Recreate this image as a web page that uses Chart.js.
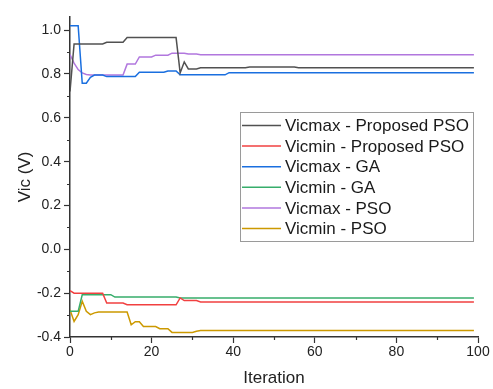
<!DOCTYPE html>
<html>
<head>
<meta charset="utf-8">
<script src="https://cdn.jsdelivr.net/npm/chart.js@4.4.0/dist/chart.umd.min.js"></script>
<style>
  html, body { margin: 0; padding: 0; background: #fff; }
  #wrap { width: 493px; height: 389px; }
</style>
</head>
<body>
<div id="wrap"><canvas id="chart" width="493" height="389"></canvas></div>
<script>
// iterations 0..99
const iterations = Array.from({ length: 100 }, (_, i) => i);

const seriesNames = [
    'Vicmax - Proposed PSO',
    'Vicmin - Proposed PSO',
    'Vicmax - GA',
    'Vicmin - GA',
    'Vicmax - PSO',
    'Vicmin - PSO'
];
const seriesColors = ['#515151', '#F14040', '#1A6FDF', '#37AD6B', '#B177DE', '#CC9900'];

const vicmaxProposed = [
    0.72, 0.937, 0.937, 0.937, 0.937, 0.937, 0.937, 0.937, 0.937, 0.945,
    0.945, 0.945, 0.945, 0.945, 0.966, 0.966, 0.966, 0.966, 0.966, 0.966,
    0.966, 0.966, 0.966, 0.966, 0.966, 0.966, 0.966, 0.805, 0.855, 0.823,
    0.823, 0.823, 0.828, 0.828, 0.828, 0.828, 0.828, 0.828, 0.828, 0.828,
    0.828, 0.828, 0.828, 0.828, 0.832, 0.832, 0.832, 0.832, 0.832, 0.832,
    0.832, 0.832, 0.832, 0.832, 0.832, 0.832, 0.828, 0.828, 0.828, 0.828,
    0.828, 0.828, 0.828, 0.828, 0.828, 0.828, 0.828, 0.828, 0.828, 0.828,
    0.828, 0.828, 0.828, 0.828, 0.828, 0.828, 0.828, 0.828, 0.828, 0.828,
    0.828, 0.828, 0.828, 0.828, 0.828, 0.828, 0.828, 0.828, 0.828, 0.828,
    0.828, 0.828, 0.828, 0.828, 0.828, 0.828, 0.828, 0.828, 0.828, 0.828
];
const vicminProposed = [
    -0.189, -0.2, -0.2, -0.2, -0.2, -0.2, -0.2, -0.2, -0.2, -0.245,
    -0.245, -0.245, -0.245, -0.245, -0.253, -0.253, -0.253, -0.253, -0.253, -0.253,
    -0.253, -0.253, -0.253, -0.253, -0.253, -0.253, -0.253, -0.222, -0.234, -0.234,
    -0.234, -0.234, -0.24, -0.24, -0.24, -0.24, -0.24, -0.24, -0.24, -0.24,
    -0.24, -0.24, -0.24, -0.24, -0.24, -0.24, -0.24, -0.24, -0.24, -0.24,
    -0.24, -0.24, -0.24, -0.24, -0.24, -0.24, -0.24, -0.24, -0.24, -0.24,
    -0.24, -0.24, -0.24, -0.24, -0.24, -0.24, -0.24, -0.24, -0.24, -0.24,
    -0.24, -0.24, -0.24, -0.24, -0.24, -0.24, -0.24, -0.24, -0.24, -0.24,
    -0.24, -0.24, -0.24, -0.24, -0.24, -0.24, -0.24, -0.24, -0.24, -0.24,
    -0.24, -0.24, -0.24, -0.24, -0.24, -0.24, -0.24, -0.24, -0.24, -0.24
];
const vicmaxGA = [
    1.02, 1.02, 1.02, 0.758, 0.758, 0.785, 0.795, 0.795, 0.795, 0.788,
    0.788, 0.788, 0.788, 0.788, 0.788, 0.788, 0.788, 0.808, 0.808, 0.808,
    0.808, 0.808, 0.808, 0.808, 0.814, 0.814, 0.814, 0.796, 0.796, 0.796,
    0.796, 0.796, 0.796, 0.796, 0.796, 0.796, 0.796, 0.796, 0.796, 0.806,
    0.806, 0.806, 0.806, 0.806, 0.806, 0.806, 0.806, 0.806, 0.806, 0.806,
    0.806, 0.806, 0.806, 0.806, 0.806, 0.806, 0.806, 0.806, 0.806, 0.806,
    0.806, 0.806, 0.806, 0.806, 0.806, 0.806, 0.806, 0.806, 0.806, 0.806,
    0.806, 0.806, 0.806, 0.806, 0.806, 0.806, 0.806, 0.806, 0.806, 0.806,
    0.806, 0.806, 0.806, 0.806, 0.806, 0.806, 0.806, 0.806, 0.806, 0.806,
    0.806, 0.806, 0.806, 0.806, 0.806, 0.806, 0.806, 0.806, 0.806, 0.806
];
const vicminGA = [
    -0.283, -0.283, -0.283, -0.207, -0.207, -0.207, -0.207, -0.207, -0.207, -0.207,
    -0.207, -0.218, -0.218, -0.218, -0.218, -0.218, -0.218, -0.218, -0.218, -0.218,
    -0.218, -0.218, -0.218, -0.218, -0.218, -0.218, -0.218, -0.222, -0.222, -0.222,
    -0.222, -0.222, -0.222, -0.222, -0.222, -0.222, -0.222, -0.222, -0.222, -0.222,
    -0.222, -0.222, -0.222, -0.222, -0.222, -0.222, -0.222, -0.222, -0.222, -0.222,
    -0.222, -0.222, -0.222, -0.222, -0.222, -0.222, -0.222, -0.222, -0.222, -0.222,
    -0.222, -0.222, -0.222, -0.222, -0.222, -0.222, -0.222, -0.222, -0.222, -0.222,
    -0.222, -0.222, -0.222, -0.222, -0.222, -0.222, -0.222, -0.222, -0.222, -0.222,
    -0.222, -0.222, -0.222, -0.222, -0.222, -0.222, -0.222, -0.222, -0.222, -0.222,
    -0.222, -0.222, -0.222, -0.222, -0.222, -0.222, -0.222, -0.222, -0.222, -0.222
];
const vicmaxPSO = [
    0.889, 0.85, 0.82, 0.805, 0.798, 0.795, 0.795, 0.795, 0.795, 0.795,
    0.795, 0.795, 0.795, 0.795, 0.845, 0.845, 0.845, 0.878, 0.878, 0.878,
    0.878, 0.886, 0.886, 0.886, 0.886, 0.895, 0.895, 0.895, 0.895, 0.891,
    0.891, 0.891, 0.888, 0.888, 0.888, 0.888, 0.888, 0.888, 0.888, 0.888,
    0.888, 0.888, 0.888, 0.888, 0.888, 0.888, 0.888, 0.888, 0.888, 0.888,
    0.888, 0.888, 0.888, 0.888, 0.888, 0.888, 0.888, 0.888, 0.888, 0.888,
    0.888, 0.888, 0.888, 0.888, 0.888, 0.888, 0.888, 0.888, 0.888, 0.888,
    0.888, 0.888, 0.888, 0.888, 0.888, 0.888, 0.888, 0.888, 0.888, 0.888,
    0.888, 0.888, 0.888, 0.888, 0.888, 0.888, 0.888, 0.888, 0.888, 0.888,
    0.888, 0.888, 0.888, 0.888, 0.888, 0.888, 0.888, 0.888, 0.888, 0.888
];
const vicminPSO = [
    -0.276, -0.329, -0.298, -0.237, -0.283, -0.298, -0.29, -0.286, -0.286, -0.286,
    -0.286, -0.286, -0.286, -0.286, -0.286, -0.344, -0.33, -0.33, -0.352, -0.352,
    -0.352, -0.352, -0.362, -0.362, -0.362, -0.379, -0.379, -0.379, -0.379, -0.379,
    -0.379, -0.374, -0.37, -0.37, -0.37, -0.37, -0.37, -0.37, -0.37, -0.37,
    -0.37, -0.37, -0.37, -0.37, -0.37, -0.37, -0.37, -0.37, -0.37, -0.37,
    -0.37, -0.37, -0.37, -0.37, -0.37, -0.37, -0.37, -0.37, -0.37, -0.37,
    -0.37, -0.37, -0.37, -0.37, -0.37, -0.37, -0.37, -0.37, -0.37, -0.37,
    -0.37, -0.37, -0.37, -0.37, -0.37, -0.37, -0.37, -0.37, -0.37, -0.37,
    -0.37, -0.37, -0.37, -0.37, -0.37, -0.37, -0.37, -0.37, -0.37, -0.37,
    -0.37, -0.37, -0.37, -0.37, -0.37, -0.37, -0.37, -0.37, -0.37, -0.37
];

const xMajorTicks = [0, 20, 40, 60, 80, 100];
const xMinorTicks = [10, 30, 50, 70, 90];
const yMajorTicks = [-0.4, -0.2, 0.0, 0.2, 0.4, 0.6, 0.8, 1.0];
const yMinorTicks = [-0.3, -0.1, 0.1, 0.3, 0.5, 0.7, 0.9];

const allSeries = [vicmaxProposed, vicminProposed, vicmaxGA, vicminGA, vicmaxPSO, vicminPSO];

const AXIS_COLOR = '#333333';
const FONT = 'Liberation Sans, Arial, sans-serif';

// minor ticks (Chart.js has none built in)
const minorTicks = {
    id: 'minorTicks',
    afterDraw(chart) {
        const ctx = chart.ctx;
        const xs = chart.scales.x, ys = chart.scales.y;
        const area = chart.chartArea;
        ctx.save();
        ctx.strokeStyle = AXIS_COLOR;
        ctx.lineWidth = 1.2;
        ctx.beginPath();
        xMinorTicks.forEach(v => {
            const px = Math.round(xs.getPixelForValue(v)) + 0.5;
            ctx.moveTo(px, area.bottom);
            ctx.lineTo(px, area.bottom + 3);
        });
        yMinorTicks.forEach(v => {
            const py = Math.round(ys.getPixelForValue(v)) + 0.5;
            ctx.moveTo(area.left, py);
            ctx.lineTo(area.left - 3, py);
        });
        ctx.stroke();
        ctx.restore();
    }
};

// legend box drawn inside the plot like the original
const boxLegend = {
    id: 'boxLegend',
    afterDraw(chart) {
        const ctx = chart.ctx;
        const left = 240, top = 112, width = 233, height = 129;
        ctx.save();
        ctx.fillStyle = '#ffffff';
        ctx.fillRect(left, top, width, height);
        ctx.strokeStyle = '#9a9a9a';
        ctx.lineWidth = 1;
        ctx.strokeRect(left + 0.5, top + 0.5, width, height);
        ctx.font = '17px ' + FONT;
        ctx.textBaseline = 'middle';
        chart.data.datasets.forEach((ds, i) => {
            const y = top + 13.5 + i * 20.6;
            ctx.strokeStyle = ds.borderColor;
            ctx.lineWidth = 1.5;
            ctx.beginPath();
            ctx.moveTo(left + 2, y);
            ctx.lineTo(left + 41, y);
            ctx.stroke();
            ctx.fillStyle = '#1a1a1a';
            ctx.fillText(ds.label, left + 45, y + 1);
        });
        ctx.restore();
    }
};

const datasets = allSeries.map((vals, i) => ({
    label: seriesNames[i],
    data: iterations.map((x, j) => ({ x: x, y: vals[j] })),
    borderColor: seriesColors[i],
    backgroundColor: seriesColors[i],
    borderWidth: 1.5,
    pointRadius: 0,
    tension: 0,
    fill: false
}));

new Chart(document.getElementById('chart').getContext('2d'), {
    type: 'line',
    data: { datasets: datasets },
    options: {
        responsive: false,
        animation: false,
        events: [],
        layout: { padding: { top: 17, right: 15, left: 15, bottom: 0 } },
        plugins: {
            legend: { display: false },
            tooltip: { enabled: false }
        },
        scales: {
            x: {
                type: 'linear',
                min: 0,
                max: 100,
                afterFit(scale) { scale.height = 52; },
                afterBuildTicks(scale) { scale.ticks = xMajorTicks.map(v => ({ value: v })); },
                border: { display: true, color: AXIS_COLOR, width: 1.5 },
                grid: { drawOnChartArea: false, drawTicks: true, tickLength: 6, tickColor: AXIS_COLOR, tickWidth: 1.2 },
                ticks: {
                    color: '#222',
                    font: { family: FONT, size: 14 },
                    padding: 1,
                    maxRotation: 0,
                    callback: v => String(v)
                },
                title: {
                    display: true,
                    text: 'Iteration',
                    color: '#222',
                    font: { family: FONT, size: 17 },
                    padding: { top: 4, bottom: 0 }
                }
            },
            y: {
                type: 'linear',
                min: -0.4,
                max: 1.06,
                afterFit(scale) { scale.width = 55; },
                afterBuildTicks(scale) { scale.ticks = yMajorTicks.map(v => ({ value: v })); },
                border: { display: true, color: AXIS_COLOR, width: 1.5 },
                grid: { drawOnChartArea: false, drawTicks: true, tickLength: 6, tickColor: AXIS_COLOR, tickWidth: 1.2 },
                ticks: {
                    color: '#222',
                    font: { family: FONT, size: 14 },
                    padding: 3,
                    callback: v => v.toFixed(1)
                },
                title: {
                    display: true,
                    text: 'Vic (V)',
                    color: '#222',
                    font: { family: FONT, size: 17 },
                    padding: { top: 0, bottom: 2 }
                }
            }
        }
    },
    plugins: [minorTicks, boxLegend]
});
</script>
</body>
</html>
